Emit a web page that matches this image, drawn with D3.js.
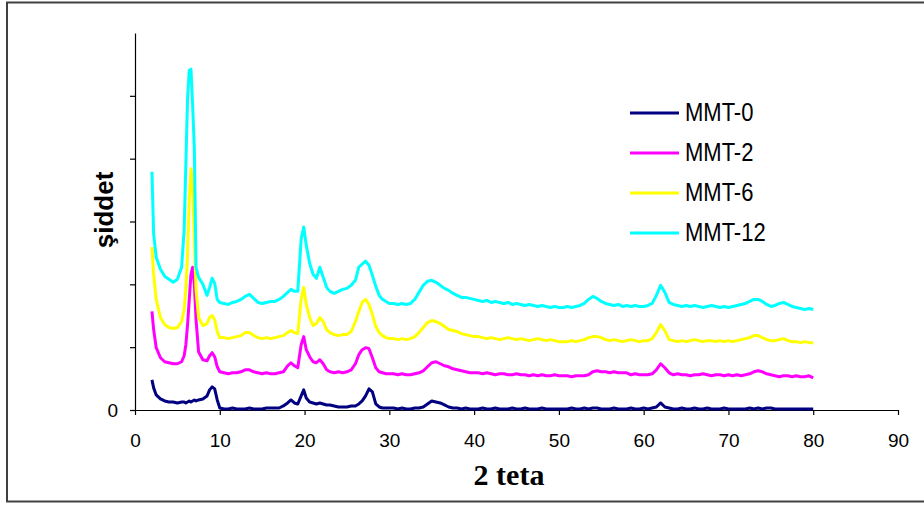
<!DOCTYPE html>
<html>
<head>
<meta charset="utf-8">
<script src="https://cdn.jsdelivr.net/npm/d3@7"></script>
<style>
  html, body { margin: 0; padding: 0; background: #fff; }
  svg { display: block; }
</style>
</head>
<body>
<svg id="chart" width="924" height="507"></svg>
<script>
// 2-theta sampling positions (degrees)
const twoTheta = [
  2, 2.2, 2.5, 3, 3.5, 4, 4.5, 5, 5.5, 5.8, 6, 6.2, 6.4, 6.6, 6.8, 7, 7.2, 7.5, 8, 8.5, 8.8, 9.1, 9.4, 9.7, 10,
  10.5, 11, 11.5, 12, 12.5, 13, 13.5, 14, 14.5, 15, 15.5, 16, 16.5, 17, 17.5, 18,
  18.4, 18.8, 19.2, 19.6, 19.9, 20.2, 20.6, 21, 21.4, 21.8, 22.2, 22.6, 23,
  23.5, 24, 24.5, 25, 25.5, 26,
  26.4, 26.8, 27.2, 27.6, 28, 28.4, 28.8, 29.2, 29.6, 30,
  30.5, 31, 31.5, 32, 32.5, 33, 33.5, 34, 34.5, 35, 35.5, 36, 36.5, 37, 37.5, 38, 38.5, 39, 39.5, 40,
  40.5, 41, 41.5, 42, 42.5, 43, 43.5, 44, 44.5, 45, 45.5, 46, 46.5, 47, 47.5, 48, 48.5, 49, 49.5, 50,
  50.5, 51, 51.5, 52, 52.5, 53, 53.5, 54, 54.5, 55, 55.5, 56, 56.5, 57, 57.5, 58, 58.5, 59, 59.5, 60,
  60.5, 61, 61.5, 62, 62.5, 63, 63.5, 64, 64.5, 65, 65.5, 66, 66.5, 67, 67.5, 68, 68.5, 69, 69.5, 70,
  70.5, 71, 71.5, 72, 72.5, 73, 73.5, 74, 74.5, 75, 75.5, 76, 76.5, 77, 77.5, 78, 78.5, 79, 79.5, 80
];

// Intensity of each sample (stacked patterns, arbitrary counts)
const mmt0 = [
  240, 176, 120, 88, 72, 64, 64, 56, 64, 64, 56, 64, 72, 64, 72, 80, 72, 80, 88, 112, 160, 184, 168, 80, 16,
  8, 8, 16, 8, 8, 8, 16, 8, 8, 8, 16, 16, 16, 16, 32, 56,
  80, 56, 48, 112, 160, 96, 64, 56, 48, 56, 48, 40, 40,
  32, 24, 24, 24, 32, 32,
  48, 72, 112, 168, 144, 48, 24, 16, 16, 16,
  16, 8, 16, 8, 8, 16, 16, 24, 48, 72, 64, 56, 40, 24, 16, 16, 8, 16, 8, 8,
  8, 16, 8, 8, 16, 8, 8, 8, 16, 8, 8, 16, 8, 8, 8, 16, 8, 8, 8, 8,
  8, 8, 16, 8, 8, 16, 8, 16, 16, 8, 8, 8, 16, 8, 8, 8, 16, 8, 8, 16,
  8, 16, 24, 56, 24, 16, 8, 8, 16, 8, 8, 16, 8, 8, 16, 8, 8, 8, 16, 8,
  8, 8, 8, 8, 16, 8, 16, 8, 16, 16, 8, 8, 8, 8, 8, 8, 8, 8, 8, 8
];

const mmt2 = [
  784, 640, 496, 416, 384, 376, 368, 368, 384, 432, 520, 680, 880, 1080, 1136, 1000, 720, 464, 400, 392, 432, 456, 424, 344, 304,
  296, 288, 296, 296, 304, 320, 320, 304, 296, 288, 296, 288, 288, 296, 304, 352,
  376, 352, 336, 520, 584, 480, 424, 384, 376, 400, 368, 320, 304,
  296, 304, 296, 304, 320, 368,
  440, 480, 496, 488, 416, 336, 304, 296, 288, 288,
  288, 280, 288, 280, 280, 288, 296, 312, 344, 376, 384, 368, 352, 344, 328, 320, 312, 304, 296, 296,
  296, 288, 296, 288, 280, 288, 288, 280, 280, 288, 280, 280, 272, 280, 272, 280, 272, 272, 280, 272,
  272, 272, 264, 272, 272, 272, 280, 304, 312, 304, 304, 296, 304, 296, 296, 296, 280, 288, 280, 280,
  280, 288, 320, 368, 336, 296, 280, 288, 280, 280, 272, 280, 280, 288, 280, 272, 280, 280, 272, 280,
  272, 280, 272, 280, 288, 304, 312, 304, 288, 280, 272, 264, 272, 272, 264, 272, 264, 264, 272, 256
];

const mmt6 = [
  1296, 1080, 880, 736, 680, 656, 648, 656, 704, 800, 960, 1240, 1680, 1920, 1760, 1360, 960, 736, 672, 688, 736, 752, 720, 624, 576,
  576, 568, 576, 584, 592, 616, 616, 592, 576, 568, 576, 568, 576, 584, 592, 616,
  632, 616, 608, 880, 976, 840, 736, 672, 688, 736, 704, 640, 616,
  600, 592, 600, 600, 624, 704,
  784, 856, 880, 840, 760, 664, 616, 592, 576, 568,
  568, 560, 568, 560, 568, 584, 616, 656, 696, 712, 704, 688, 664, 640, 632, 624, 608, 600, 592, 584,
  584, 576, 568, 576, 568, 560, 568, 576, 568, 560, 568, 560, 552, 560, 568, 560, 552, 560, 552, 544,
  544, 544, 552, 544, 552, 560, 576, 584, 584, 576, 560, 552, 560, 552, 544, 552, 560, 552, 544, 552,
  552, 568, 616, 680, 632, 560, 552, 544, 552, 544, 552, 560, 552, 544, 552, 552, 544, 552, 544, 552,
  544, 552, 560, 568, 576, 592, 592, 576, 560, 552, 552, 560, 568, 552, 544, 544, 536, 544, 536, 536
];

const mmt12 = [
  1896, 1400, 1216, 1120, 1064, 1040, 1016, 1040, 1136, 1440, 1960, 2480, 2704, 2712, 2424, 2080, 1136, 1056, 1000, 912, 976, 1048, 1008, 880, 856,
  848, 840, 856, 864, 880, 904, 920, 888, 856, 848, 856, 864, 864, 880, 904, 936,
  960, 944, 944, 1360, 1456, 1312, 1168, 1080, 1048, 1136, 1056, 976, 944,
  928, 944, 960, 968, 992, 1032,
  1136, 1160, 1184, 1152, 1072, 984, 912, 880, 864, 848,
  848, 840, 848, 840, 848, 880, 936, 992, 1024, 1032, 1016, 992, 968, 952, 928, 912, 896, 896, 888, 880,
  872, 864, 872, 856, 864, 856, 848, 856, 840, 848, 840, 832, 840, 832, 824, 832, 824, 816, 824, 816,
  816, 824, 816, 824, 832, 848, 880, 904, 888, 864, 848, 840, 832, 840, 824, 832, 824, 832, 824, 824,
  832, 848, 912, 992, 936, 856, 840, 832, 824, 832, 824, 832, 824, 816, 824, 832, 824, 816, 824, 816,
  824, 832, 840, 848, 864, 880, 880, 864, 840, 824, 832, 848, 856, 840, 824, 816, 808, 800, 808, 800
];

const seriesNames = ["MMT-0", "MMT-2", "MMT-6", "MMT-12"];
const seriesValues = [mmt0, mmt2, mmt6, mmt12];
const seriesColors = ["#000080", "#FF00FF", "#FFFF00", "#00FFFF"];

const xTicks = [0, 10, 20, 30, 40, 50, 60, 70, 80, 90];
const yTicks = [0, 500, 1000, 1500, 2000, 2500];

const svg = d3.select("#chart");

// chart area frame
svg.append("rect")
  .attr("x", 7).attr("y", 2.5)
  .attr("width", 1000).attr("height", 499)
  .attr("fill", "#fff")
  .attr("stroke", "#404040")
  .attr("stroke-width", 2);

const x = d3.scaleLinear().domain([0, 90]).range([135, 898]);
const y = d3.scaleLinear().domain([0, 3000]).range([410, 33]);

// axes
const xAxis = svg.append("g")
  .attr("transform", `translate(0,${y(0)})`)
  .call(d3.axisBottom(x).tickValues(xTicks).tickSize(5).tickSizeOuter(0));
const yAxis = svg.append("g")
  .attr("transform", `translate(${x(0)},0)`)
  .call(d3.axisLeft(y).tickValues(yTicks).tickSize(5).tickSizeOuter(0)
    .tickFormat(d => d === 0 ? "0" : ""));

[xAxis, yAxis].forEach(g => {
  g.select(".domain").attr("stroke", "#000").attr("stroke-width", 1.2);
  g.selectAll(".tick line").attr("stroke", "#000").attr("stroke-width", 1.2);
  g.selectAll("text")
    .attr("font-family", "Arial, 'Liberation Sans', sans-serif")
    .attr("font-size", 19)
    .attr("fill", "#000");
});
xAxis.selectAll("text").attr("y", 0).attr("dy", 0).attr("transform", "translate(0,37)");
yAxis.selectAll("text").attr("x", -17).attr("dy", "0.33em");

// series lines
const line = d3.line()
  .x((d, i) => x(twoTheta[i]))
  .y(d => y(d));

seriesValues.forEach((vals, k) => {
  svg.append("path")
    .datum(vals)
    .attr("fill", "none")
    .attr("stroke", seriesColors[k])
    .attr("stroke-width", 3)
    .attr("stroke-linejoin", "round")
    .attr("d", line);
});

// axis titles
svg.append("text")
  .attr("x", 509).attr("y", 485)
  .attr("text-anchor", "middle")
  .attr("font-family", "'Times New Roman', 'Liberation Serif', serif")
  .attr("font-weight", "bold")
  .attr("font-size", 30)
  .text("2 teta");

svg.append("text")
  .attr("transform", "translate(113,210) rotate(-90)")
  .attr("text-anchor", "middle")
  .attr("font-family", "Arial, 'Liberation Sans', sans-serif")
  .attr("font-weight", "bold")
  .attr("font-size", 26)
  .text("şiddet");

// legend
const legend = svg.append("g");
const legendRowY = [113, 153, 193, 233];
seriesNames.forEach((name, k) => {
  legend.append("line")
    .attr("x1", 630).attr("x2", 679)
    .attr("y1", legendRowY[k]).attr("y2", legendRowY[k])
    .attr("stroke", seriesColors[k])
    .attr("stroke-width", 3);
  legend.append("text")
    .attr("transform", `translate(685,${legendRowY[k] + 8}) scale(0.88,1)`)
    .attr("font-family", "Arial, 'Liberation Sans', sans-serif")
    .attr("font-size", 25)
    .attr("fill", "#000")
    .text(name);
});
</script>
</body>
</html>
